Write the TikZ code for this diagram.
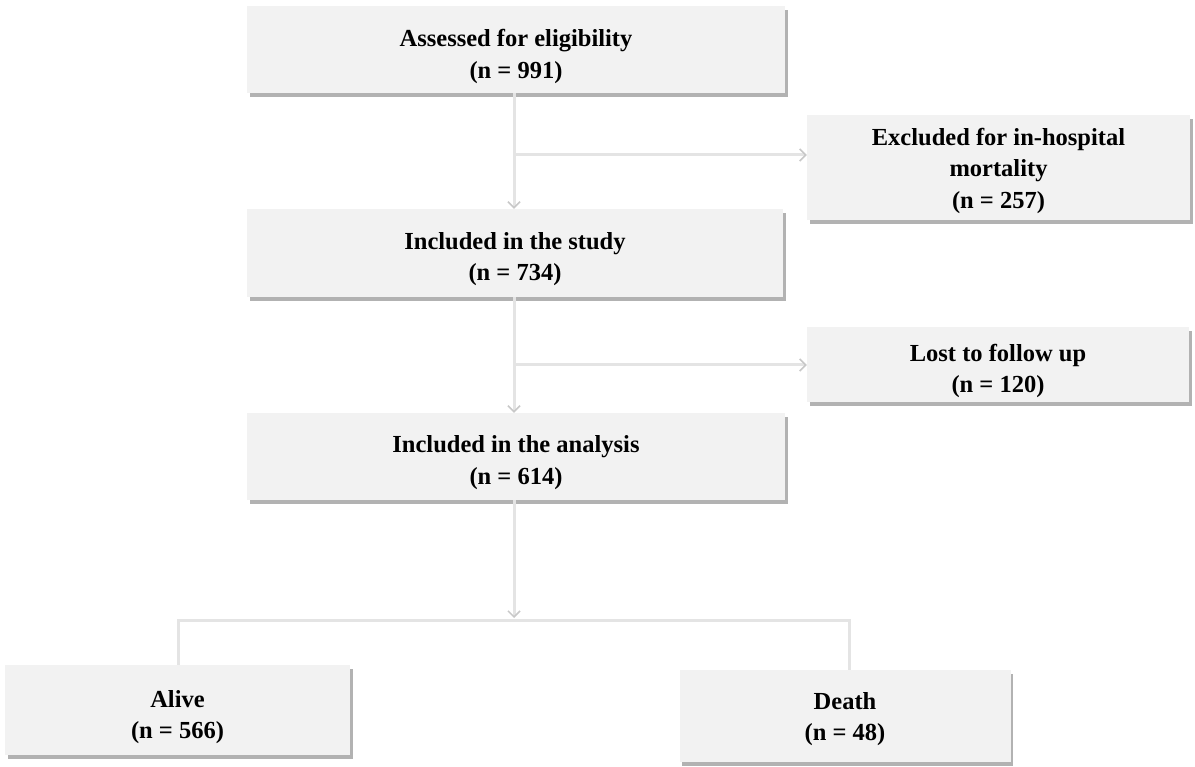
\documentclass[tikz,border=0pt]{standalone}
\usepackage{fontspec}
\setmainfont{Liberation Serif}
\usetikzlibrary{arrows.meta,shadows}
\definecolor{boxfill}{HTML}{F2F2F2}
\definecolor{connc}{HTML}{E4E4E4}
\definecolor{tipc}{HTML}{C8C8C8}
\tikzset{
  fbox/.style={rectangle, fill=boxfill, draw=none, inner sep=0pt,
    drop shadow={shadow xshift=2.5pt, shadow yshift=-4pt, fill=black!55, opacity=0.55}},
  ftext/.style={align=center, inner sep=0pt,
    font=\bfseries\fontsize{24.5}{31.5}\selectfont},
  conn/.style={draw=connc, line width=3pt},
  tip/.style={-{Straight Barb[length=6pt,width=12pt,line width=1.5pt,color=tipc]}}
}
\begin{document}
\begin{tikzpicture}[x=1pt,y=-1pt]
\useasboundingbox (0,0) rectangle (1195,767);
\node[fbox, minimum width=538pt, minimum height=87pt] (b1) at (516,49.5) {};
\node[fbox, minimum width=536pt, minimum height=88pt] (b2) at (515,253) {};
\node[fbox, minimum width=538pt, minimum height=87pt] (b3) at (516,456.5) {};
\node[fbox, minimum width=383pt, minimum height=105pt] (ex) at (998.5,167.5) {};
\node[fbox, minimum width=382pt, minimum height=75pt] (lost) at (998,365) {};
\node[fbox, minimum width=345pt, minimum height=90pt] (alive) at (177.5,710) {};
\node[fbox, minimum width=331pt, minimum height=92pt] (death) at (845,716) {};
\node[ftext] (b1t) at ([yshift=-7pt]b1.center) {Assessed for eligibility\\(n = 991)};
\node[ftext] (b2t) at ([yshift=-6pt]b2.center) {Included in the study\\(n = 734)};
\node[ftext] (b3t) at ([yshift=-6pt]b3.center) {Included in the analysis\\(n = 614)};
\node[ftext] (ext) at ([yshift=-3pt]ex.center) {Excluded for in-hospital\\mortality\\(n = 257)};
\node[ftext] (lostt) at ([yshift=-6pt]lost.center) {Lost to follow up\\(n = 120)};
\node[ftext] (alivet) at ([yshift=-7pt]alive.center) {Alive\\(n = 566)};
\node[ftext] (deatht) at ([yshift=-3pt]death.center) {Death\\(n = 48)};
\coordinate (j1) at (514,155);
\coordinate (j2) at (514,365);
\coordinate (j3) at (514,618);
\coordinate (hl) at (178,620);
\coordinate (hr) at (849,620);
\draw[conn,tip] (b1.south -| j1) -- (b2.north -| j1);
\draw[conn,tip] (j1) -- (j1 -| ex.west);
\draw[conn,tip] (b2.south -| j2) -- (b3.north -| j2);
\draw[conn,tip] (j2) -- (j2 -| lost.west);
\draw[conn] (alive.north -| hl) -- (hl) -- (hr) -- (death.north -| hr);
\draw[conn,tip] (b3.south -| j3) -- (j3);
\end{tikzpicture}
\end{document}
